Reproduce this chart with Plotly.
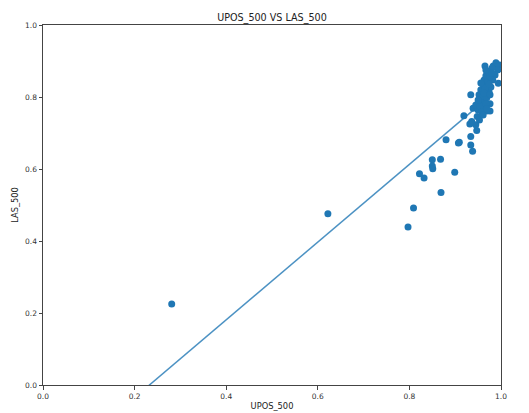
import plotly.graph_objects as go

# UPOS_500 (x) and LAS_500 (y) values
upos_500 = [
    0.281, 0.622, 0.797, 0.809, 0.869, 0.822, 0.832, 0.850, 0.850, 0.851,
    0.868, 0.899, 0.880, 0.909, 0.934, 0.934, 0.938, 0.947, 0.945, 0.932,
    0.919, 0.934, 0.939, 0.956, 0.976, 0.976, 0.948, 0.953, 0.936, 0.907,
    0.965, 0.983, 0.989, 0.996, 0.993, 0.980, 0.987, 0.982, 0.994, 0.969,
    0.950, 0.958, 0.945, 0.954, 0.963, 0.952, 0.961, 0.969, 0.956, 0.965,
    0.974, 0.961, 0.969, 0.978, 0.963, 0.972, 0.967, 0.976, 0.972, 0.980,
    0.965, 0.954, 0.967, 0.958, 0.961, 0.969, 0.974, 0.963, 0.956, 0.967,
    0.950, 0.976,
]
las_500 = [
    0.225, 0.476, 0.439, 0.492, 0.535, 0.587, 0.575, 0.626, 0.608, 0.601,
    0.627, 0.591, 0.681, 0.674, 0.690, 0.667, 0.649, 0.707, 0.723, 0.725,
    0.748, 0.806, 0.769, 0.783, 0.781, 0.761, 0.746, 0.736, 0.732, 0.672,
    0.886, 0.886, 0.895, 0.889, 0.875, 0.880, 0.861, 0.847, 0.838, 0.761,
    0.764, 0.770, 0.778, 0.792, 0.786, 0.806, 0.803, 0.798, 0.820, 0.817,
    0.814, 0.834, 0.831, 0.828, 0.847, 0.844, 0.859, 0.856, 0.870, 0.867,
    0.825, 0.775, 0.781, 0.759, 0.750, 0.767, 0.836, 0.811, 0.839, 0.875,
    0.792, 0.806,
]

# fitted regression line (slope / intercept / x extent)
fit_slope = 1.08
fit_intercept = -0.251
fit_x_range = [0.0, 0.955]

tick_vals = [0.0, 0.2, 0.4, 0.6, 0.8, 1.0]
tick_text = ["0.0", "0.2", "0.4", "0.6", "0.8", "1.0"]

line_x = list(fit_x_range)
line_y = [fit_slope * v + fit_intercept for v in line_x]

blue = "#1f77b4"
font_family = "DejaVu Sans"

fig = go.Figure()
fig.add_trace(go.Scatter(
    x=line_x, y=line_y, mode="lines",
    line=dict(color="rgba(31,119,180,0.8)", width=1.5),
    hoverinfo="skip", showlegend=False,
))
fig.add_trace(go.Scatter(
    x=upos_500, y=las_500, mode="markers",
    marker=dict(color=blue, size=7, line=dict(width=0)),
    showlegend=False,
))

axis_common = dict(
    range=[0, 1], tickvals=tick_vals, ticktext=tick_text,
    showgrid=False, zeroline=False,
    showline=True, mirror=True, linecolor="#444", linewidth=1,
    ticks="outside", ticklen=3.5, tickwidth=1, tickcolor="#444",
    tickfont=dict(family=font_family, size=7.5, color="#333"),
    automargin=False,
)

fig.update_layout(
    width=521, height=405,
    margin=dict(l=35, r=28, t=17, b=28),
    paper_bgcolor="white", plot_bgcolor="white",
    font=dict(family=font_family, color="#222"),
    title=dict(text="UPOS_500 VS LAS_500", x=0.5, xref="paper", xanchor="center",
               y=1, yref="paper", yanchor="bottom", pad=dict(b=4),
               font=dict(family=font_family, size=9.6, color="#222")),
    xaxis=dict(axis_common, title=dict(text="UPOS_500", standoff=3,
               font=dict(family=font_family, size=8.3, color="#222"))),
    yaxis=dict(axis_common, title=dict(text="LAS_500", standoff=5,
               font=dict(family=font_family, size=8.3, color="#222"))),
)

fig.write_html("out.html")
